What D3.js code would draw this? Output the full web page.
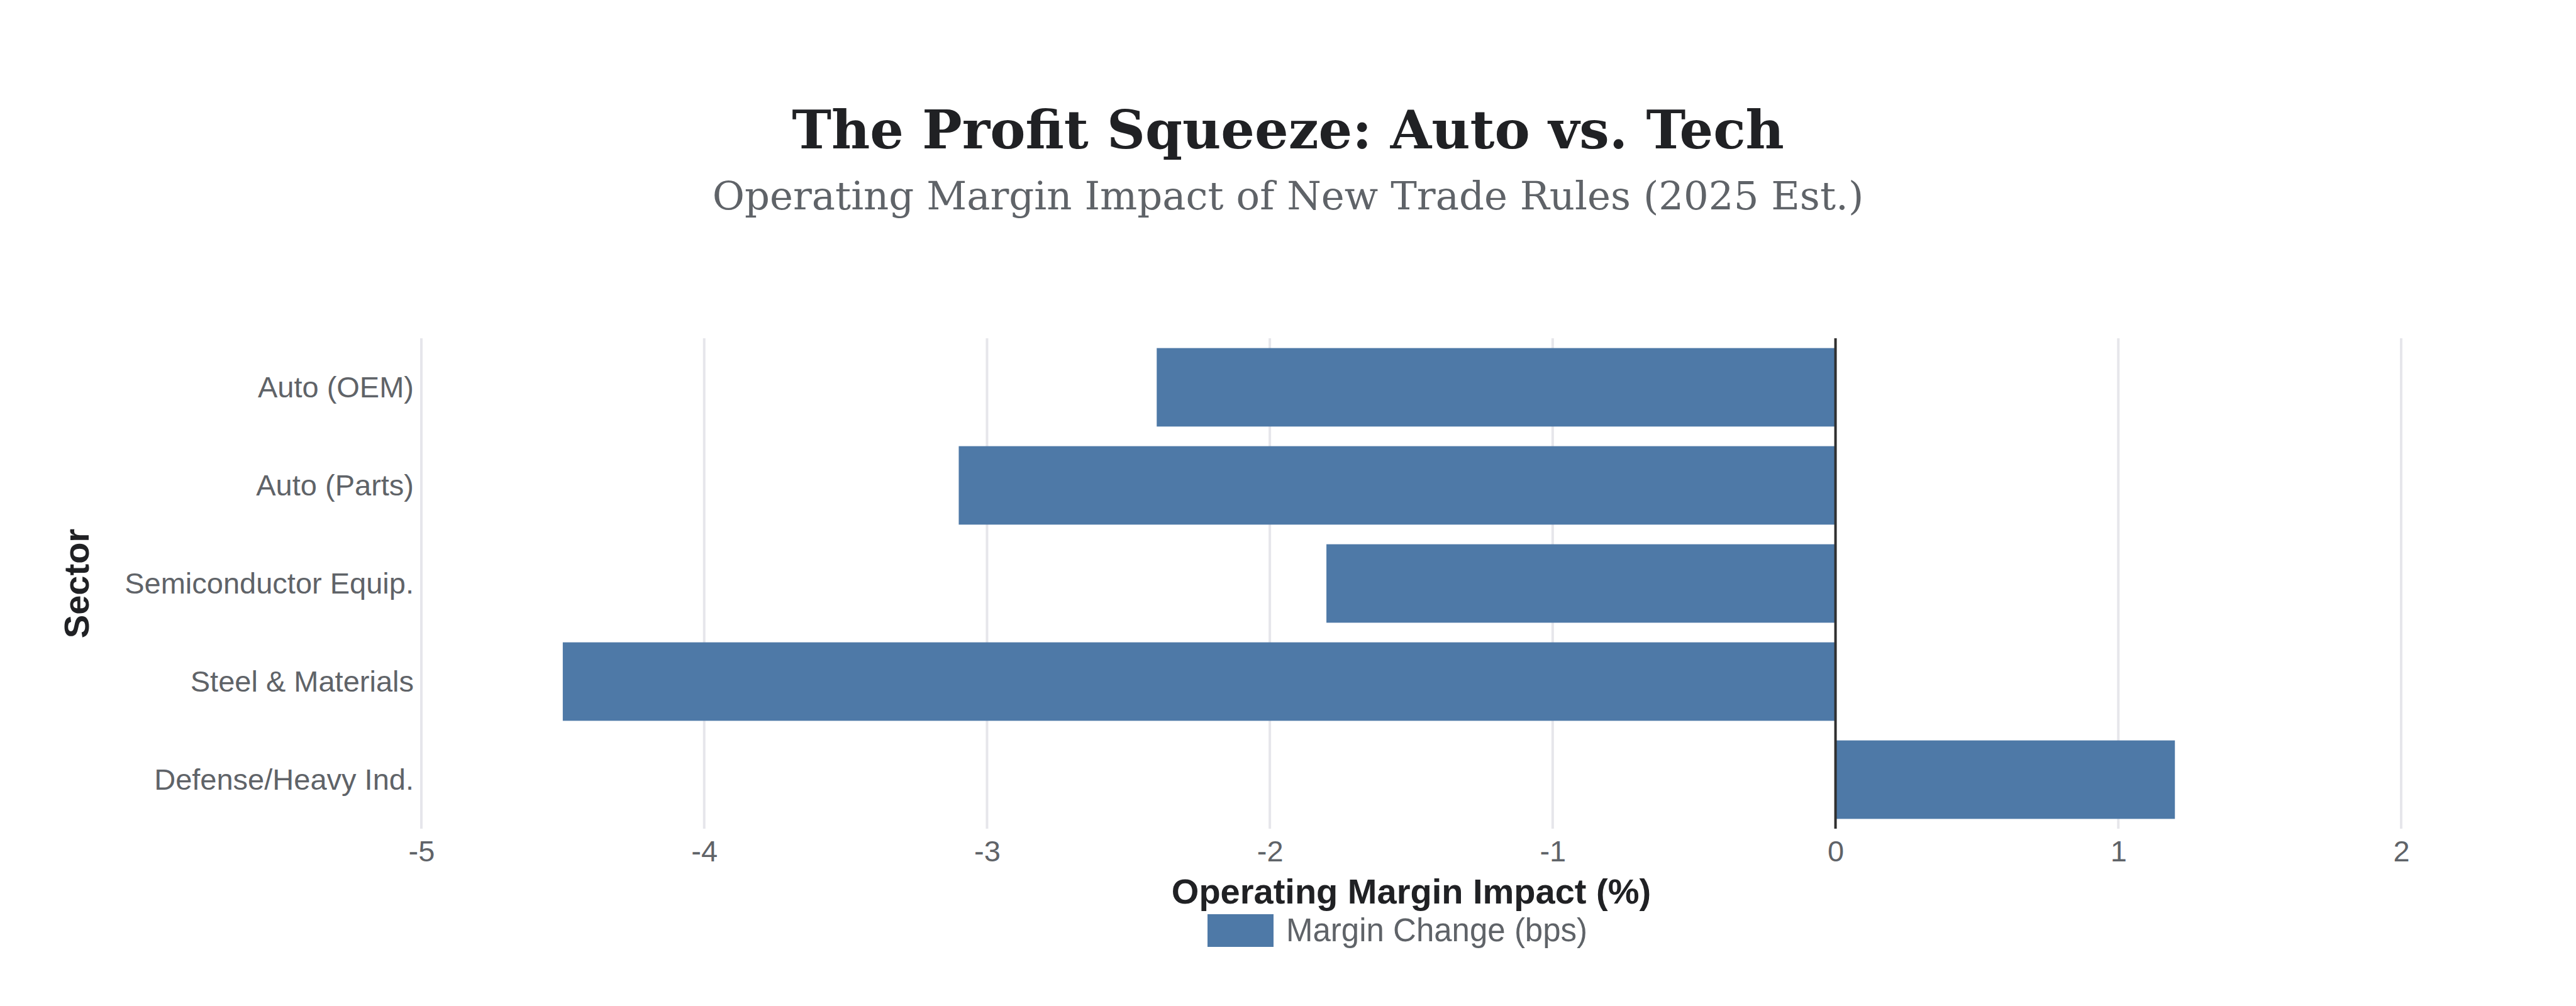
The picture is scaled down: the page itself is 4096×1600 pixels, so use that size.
<!DOCTYPE html>
<html lang="en">
  <head>
    <meta charset="UTF-8" />
    <title>The Profit Squeeze: Auto vs. Tech</title>
    <style>
      body {
        margin: 0;
        padding: 0;
        background-color: #ffffff;
      }

      text {
        font-family: "Liberation Sans", Arial, sans-serif;
      }

      text.serif {
        font-family: "DejaVu Serif", serif;
      }

      .tick-label {
        fill: #5f6368;
        font-size: 47px;
      }

      .grid line {
        stroke: #e6e6eb;
        stroke-width: 4px;
      }
    </style>
  </head>
  <body>
    <svg id="chart"></svg>

    <script src="https://d3js.org/d3.v7.min.js"></script>
    <script>
      const width = 4096;
      const height = 1600;

      // data
      const sectors = [
        "Auto (OEM)",
        "Auto (Parts)",
        "Semiconductor Equip.",
        "Steel & Materials",
        "Defense/Heavy Ind."
      ];
      const marginImpact = [-2.4, -3.1, -1.8, -4.5, 1.2];
      const xTicks = [-5, -4, -3, -2, -1, 0, 1, 2];
      const seriesName = "Margin Change (bps)";

      const plot = { left: 670, right: 3818, top: 538, bottom: 1318 };
      const barColor = "#4e79a7";

      const svg = d3.select("#chart").attr("width", width).attr("height", height);

      const x = d3
        .scaleLinear()
        .domain([-5, 2])
        .range([plot.left, plot.right]);

      const y = d3
        .scaleBand()
        .domain(sectors)
        .range([plot.top, plot.bottom])
        .paddingInner(0.2)
        .paddingOuter(0.1);

      // gridlines
      svg
        .append("g")
        .attr("class", "grid")
        .selectAll("line")
        .data(xTicks.filter((t) => t !== 0))
        .enter()
        .append("line")
        .attr("x1", (d) => x(d))
        .attr("x2", (d) => x(d))
        .attr("y1", plot.top)
        .attr("y2", plot.bottom);

      // bars
      const rows = sectors.map((s, i) => ({ sector: s, value: marginImpact[i] }));
      svg
        .append("g")
        .selectAll("rect")
        .data(rows)
        .enter()
        .append("rect")
        .attr("x", (d) => x(Math.min(0, d.value)))
        .attr("width", (d) => Math.abs(x(d.value) - x(0)))
        .attr("y", (d) => y(d.sector))
        .attr("height", y.bandwidth())
        .attr("fill", barColor);

      // zero line
      svg
        .append("line")
        .attr("x1", x(0))
        .attr("x2", x(0))
        .attr("y1", plot.top)
        .attr("y2", plot.bottom)
        .attr("stroke", "#2f2f2f")
        .attr("stroke-width", 4);

      // x axis (plain hyphen for negatives, as in the reference)
      const xAxis = svg
        .append("g")
        .attr("transform", `translate(0,${plot.bottom})`)
        .call(
          d3
            .axisBottom(x)
            .tickValues(xTicks)
            .tickSize(0)
            .tickPadding(52)
            .tickFormat((d) => String(d))
        );
      xAxis.select(".domain").remove();
      xAxis
        .selectAll("text")
        .attr("class", "tick-label")
        .attr("dy", null)
        .attr("font-family", null)
        .attr("font-size", null)
        .attr("fill", null);

      // y axis
      const yAxis = svg
        .append("g")
        .attr("transform", `translate(${plot.left},0)`)
        .call(d3.axisLeft(y).tickSize(0).tickPadding(12));
      yAxis.select(".domain").remove();
      yAxis
        .selectAll("text")
        .attr("class", "tick-label")
        .attr("dy", "0.35em")
        .attr("font-family", null)
        .attr("font-size", null)
        .attr("fill", null);

      // axis titles
      svg
        .append("text")
        .attr("x", (plot.left + plot.right) / 2)
        .attr("y", 1437)
        .attr("text-anchor", "middle")
        .attr("font-size", 56)
        .attr("font-weight", "bold")
        .attr("fill", "#202124")
        .text("Operating Margin Impact (%)");

      svg
        .append("text")
        .attr("transform", `translate(141,${(plot.top + plot.bottom) / 2}) rotate(-90)`)
        .attr("text-anchor", "middle")
        .attr("font-size", 56)
        .attr("font-weight", "bold")
        .attr("fill", "#202124")
        .text("Sector");

      // legend
      const legend = svg.append("g").attr("transform", "translate(1920,1454)");
      legend.append("rect").attr("width", 105).attr("height", 52).attr("fill", barColor);
      legend
        .append("text")
        .attr("x", 125)
        .attr("y", 43)
        .attr("font-size", 51)
        .attr("fill", "#5f6368")
        .text(seriesName);

      // titles, sized to the reference widths
      function fitText(sel, target) {
        const w = sel.node().getComputedTextLength();
        const size = parseFloat(sel.attr("font-size"));
        sel.attr("font-size", (size * target) / w);
      }

      const title = svg
        .append("text")
        .attr("class", "serif")
        .attr("x", width / 2)
        .attr("y", 236)
        .attr("text-anchor", "middle")
        .attr("font-weight", "bold")
        .attr("font-size", 100)
        .attr("fill", "#202124")
        .text("The Profit Squeeze: Auto vs. Tech");
      fitText(title, 1578);

      const subtitle = svg
        .append("text")
        .attr("class", "serif")
        .attr("x", width / 2)
        .attr("y", 333)
        .attr("text-anchor", "middle")
        .attr("font-size", 66)
        .attr("fill", "#5f6368")
        .text("Operating Margin Impact of New Trade Rules (2025 Est.)");
      fitText(subtitle, 1831);
    </script>
  </body>
</html>
